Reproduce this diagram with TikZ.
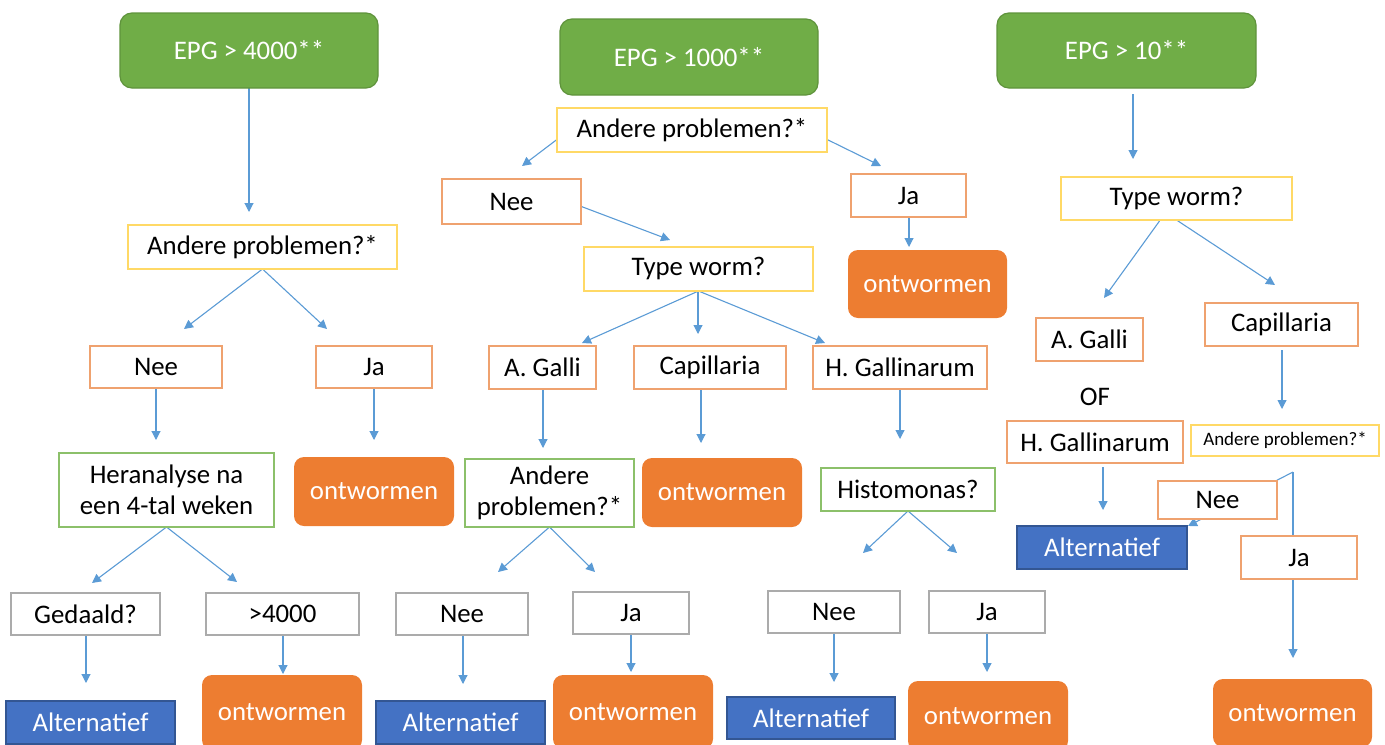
\documentclass[tikz,border=0pt]{standalone}
\usepackage{fontspec}
\setmainfont{Carlito}
\usepackage{tikz}
\usetikzlibrary{arrows.meta,backgrounds,calc}
\definecolor{epggroen}{HTML}{70AD47}
\definecolor{ontworanje}{HTML}{ED7D31}
\definecolor{altblauw}{HTML}{4472C4}
\definecolor{pijlblauw}{HTML}{5B9BD5}
\definecolor{geelrand}{HTML}{FFD966}
\definecolor{oranjerand}{HTML}{EFA26F}
\definecolor{groenrand}{HTML}{8CC06A}
\definecolor{grijsrand}{HTML}{ABABAB}
\tikzstyle{pijl}=[draw=pijlblauw, line width=0.55pt, -{Triangle[length=4.5pt,width=4.5pt]}]
\tikzstyle{kader}=[inner sep=0pt, outer sep=0pt, line width=0.6pt, text=black]
\tikzstyle{epgbox}=[kader, rounded corners=6pt, fill=epggroen, draw=epggroen!85!black, text=white]
\tikzstyle{geelbox}=[kader, fill=white, draw=geelrand]
\tikzstyle{oranjebox}=[kader, fill=white, draw=oranjerand]
\tikzstyle{groenbox}=[kader, fill=white, draw=groenrand, align=center]
\tikzstyle{grijsbox}=[kader, fill=white, draw=grijsrand]
\tikzstyle{ontwbox}=[kader, rounded corners=5pt, fill=ontworanje, text=white]
\tikzstyle{altbox}=[kader, fill=altblauw, draw=altblauw!75!black, text=white]
\tikzstyle{kleingeel}=[geelbox, font=\fontsize{9.5}{11}\selectfont]
\newcommand{\rectNbox}[7]{
	\node[#1, minimum width={(#5-#3)*0.5pt}, minimum height={(#6-#4)*0.5pt}] (#2) at ({(#3+#5)/2},{(#4+#6)/2}) {#7};
}

\begin{document}
\begin{tikzpicture}[x=0.5pt, y=-0.5pt, font=\fontsize{13.4}{15.5}\selectfont]
	\useasboundingbox (0,0) rectangle (1385,744);
	\clip (0,0) rectangle (1385,744);
	% bovenste rij
	\rectNbox{epgbox}{epgA}{120}{13}{378}{88}{EPG > 4000**}
	\rectNbox{epgbox}{epgB}{560}{19}{818}{95}{EPG > 1000**}
	\rectNbox{epgbox}{epgC}{997}{13}{1256}{88}{EPG > 10**}
	% EPG > 4000
	\rectNbox{geelbox}{vraagA}{128}{225}{397}{269}{Andere problemen?*}
	\rectNbox{oranjebox}{neeA}{90}{346}{222}{388}{Nee}
	\rectNbox{oranjebox}{jaA}{316}{346}{432}{388}{Ja}
	\rectNbox{groenbox}{herA}{59}{453}{274}{527}{Heranalyse na\\een 4-tal weken}
	\rectNbox{ontwbox}{ontA}{294}{457}{454}{526}{ontwormen}
	\rectNbox{grijsbox}{gedA}{11}{593}{160}{635}{Gedaald?}
	\rectNbox{grijsbox}{meerA}{206}{593}{359}{635}{>4000}
	\rectNbox{altbox}{altA}{6}{701}{175}{744}{Alternatief}
	\rectNbox{ontwbox}{ontB}{202}{675}{362}{750}{ontwormen}
	% EPG > 1000
	\rectNbox{geelbox}{vraagB}{557}{108}{827}{152}{Andere problemen?*}
	\rectNbox{oranjebox}{neeB}{442}{179}{581}{224}{Nee}
	\rectNbox{oranjebox}{jaB}{851}{174}{966}{217}{Ja}
	\rectNbox{geelbox}{typeB}{584}{247}{813}{291}{Type worm?}
	\rectNbox{ontwbox}{ontC}{848}{250}{1007}{318}{ontwormen}
	\rectNbox{oranjebox}{galliB}{489}{346}{596}{389}{A. Galli}
	\rectNbox{oranjebox}{capB}{634}{346}{786}{389}{Capillaria}
	\rectNbox{oranjebox}{hetB}{813}{346}{987}{389}{H. Gallinarum}
	\rectNbox{groenbox}{vraagB2}{465}{459}{634}{527}{Andere\\problemen?*}
	\rectNbox{ontwbox}{ontD}{642}{458}{802}{527}{ontwormen}
	\rectNbox{groenbox}{histB}{821}{468}{995}{511}{Histomonas?}
	\rectNbox{grijsbox}{neeB2}{396}{593}{528}{635}{Nee}
	\rectNbox{grijsbox}{jaB2}{573}{592}{689}{634}{Ja}
	\rectNbox{altbox}{altB}{376}{701}{545}{744}{Alternatief}
	\rectNbox{ontwbox}{ontE}{553}{675}{713}{749}{ontwormen}
	\rectNbox{grijsbox}{neeB3}{768}{591}{900}{633}{Nee}
	\rectNbox{grijsbox}{jaB3}{929}{591}{1045}{633}{Ja}
	\rectNbox{altbox}{altC}{727}{697}{895}{739}{Alternatief}
	\rectNbox{ontwbox}{ontF}{908}{681}{1068}{751}{ontwormen}
	% EPG > 10
	\rectNbox{geelbox}{typeC}{1061}{177}{1292}{220}{Type worm?}
	\rectNbox{oranjebox}{galliC}{1036}{318}{1143}{361}{A. Galli}
	\rectNbox{oranjebox}{capC}{1205}{303}{1358}{346}{Capillaria}
	\node (ofC) at (1095,397) {OF};
	\rectNbox{oranjebox}{hetC}{1007}{421}{1183}{463}{H. Gallinarum}
	\rectNbox{kleingeel}{vraagC}{1191}{425}{1379}{456}{Andere problemen?*}
	\rectNbox{altbox}{altD}{1017}{526}{1187}{569}{Alternatief}
	\rectNbox{oranjebox}{neeC}{1158}{481}{1277}{519}{Nee}
	\rectNbox{oranjebox}{jaC}{1241}{536}{1357}{579}{Ja}
	\rectNbox{ontwbox}{ontG}{1213}{679}{1372}{747}{ontwormen}
	% pijlpunten
	\coordinate (tA1) at (249,212);
	\coordinate (tA2) at (184,329);
	\coordinate (tA3) at (327,329);
	\coordinate (tA4) at (156,440);
	\coordinate (tA5) at (374,440);
	\coordinate (tA6) at (92,583);
	\coordinate (tA7) at (237,582);
	\coordinate (tA8) at (86,683);
	\coordinate (tA9) at (283,674);
	\coordinate (tB1) at (522,166);
	\coordinate (tB2) at (881,166);
	\coordinate (tB3) at (670,240);
	\coordinate (tB4) at (909,247);
	\coordinate (tB5) at (582,343);
	\coordinate (tB6) at (698,334);
	\coordinate (tB7) at (825,343);
	\coordinate (tB8) at (543,448);
	\coordinate (tB9) at (701,443);
	\coordinate (tB10) at (900,439);
	\coordinate (tB11) at (498,572);
	\coordinate (tB12) at (595,572);
	\coordinate (tB13) at (863,553);
	\coordinate (tB14) at (957,553);
	\coordinate (tB15) at (463,684);
	\coordinate (tB16) at (631,672);
	\coordinate (tB17) at (834,682);
	\coordinate (tB18) at (987,672);
	\coordinate (tC1) at (1133,159);
	\coordinate (tC2) at (1104,298);
	\coordinate (tC3) at (1275,285);
	\coordinate (tC4) at (1282,409);
	\coordinate (tC5) at (1103,510);
	\coordinate (splitC) at (1293,472);
	\coordinate (tC6) at (1188,526);
	\coordinate (tC7) at (1293,658);
	\begin{scope}[on background layer]
		\draw[pijl] (epgA.south) -- (tA1);
		\draw[pijl] (vraagA.south) -- (tA2);
		\draw[pijl] (vraagA.south) -- (tA3);
		\draw[pijl] (neeA.south -| tA4) -- (tA4);
		\draw[pijl] (jaA.south -| tA5) -- (tA5);
		\draw[pijl] (herA.south) -- (tA6);
		\draw[pijl] (herA.south) -- (tA7);
		\draw[pijl] (gedA.south -| tA8) -- (tA8);
		\draw[pijl] (meerA.south -| tA9) -- (tA9);
		\draw[pijl] (vraagB.184) -- (tB1);
		\draw[pijl] (vraagB.-4) -- (tB2);
		\draw[pijl] (neeB.-4) -- (tB3);
		\draw[pijl] (jaB.south -| tB4) -- (tB4);
		\draw[pijl] (typeB.south) -- (tB5);
		\draw[pijl] (typeB.south -| tB6) -- (tB6);
		\draw[pijl] (typeB.south) -- (tB7);
		\draw[pijl] (galliB.south -| tB8) -- (tB8);
		\draw[pijl] (capB.south -| tB9) -- (tB9);
		\draw[pijl] (hetB.south -| tB10) -- (tB10);
		\draw[pijl] (vraagB2.south) -- (tB11);
		\draw[pijl] (vraagB2.south) -- (tB12);
		\draw[pijl] (histB.south) -- (tB13);
		\draw[pijl] (histB.south) -- (tB14);
		\draw[pijl] (neeB2.south -| tB15) -- (tB15);
		\draw[pijl] (jaB2.south -| tB16) -- (tB16);
		\draw[pijl] (neeB3.south -| tB17) -- (tB17);
		\draw[pijl] (jaB3.south -| tB18) -- (tB18);
		\draw[pijl, shorten <=3pt] (epgC.south -| tC1) -- (tC1);
		\draw[pijl] ($(typeC.south)+(-17,1)$) -- (tC2);
		\draw[pijl] (typeC.south) -- (tC3);
		\draw[pijl, shorten <=2pt] (capC.south -| tC4) -- (tC4);
		\draw[pijl, shorten <=2pt] (hetC.south -| tC5) -- (tC5);
		\draw[pijl] (splitC) -- (tC6);
		\draw[pijl] (splitC) -- (tC7);
	\end{scope}
\end{tikzpicture}
\end{document}
